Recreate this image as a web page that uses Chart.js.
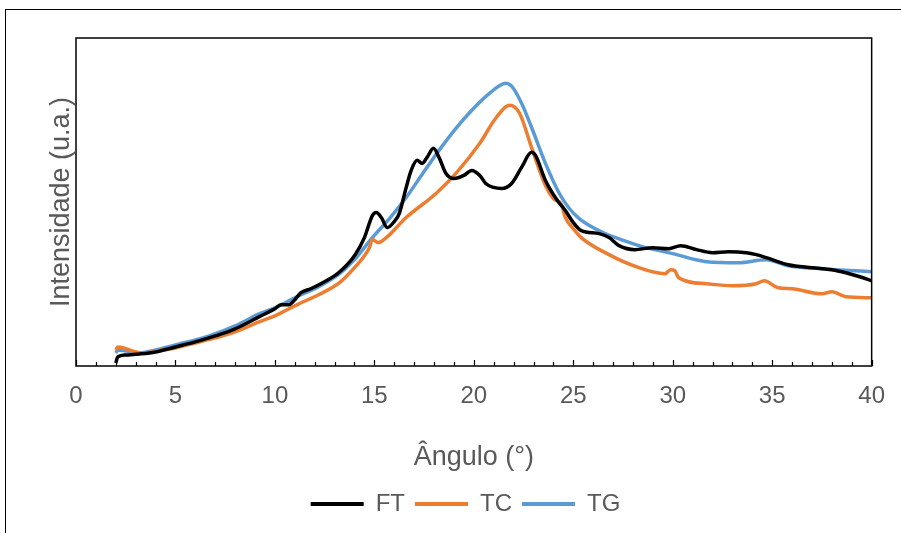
<!DOCTYPE html>
<html lang="pt">
<head>
    <meta charset="UTF-8">
    <title>Difratograma - FT, TC, TG</title>
    <script src="https://cdn.jsdelivr.net/npm/chart.js"></script>
    <style>
        body, html {
            margin: 0;
            padding: 0;
            background: #fff;
        }
        #chart {
            display: block;
        }
    </style>
</head>
<body>
    <canvas id="chart" width="901" height="533"></canvas>

    <script>
        // Ângulo (°) e intensidade (u.a.)
        const ftAngles = [2.0, 2.1, 2.5, 3.2, 4, 5, 6, 7, 8, 9.2, 10, 10.3, 10.7, 11.0, 11.3, 11.8, 12.4, 13.2, 14, 14.5, 14.9, 15.1, 15.35, 15.65, 16.0, 16.25, 16.6, 16.85, 17.15, 17.4, 17.65, 17.97, 18.25, 18.6, 19.0, 19.5, 19.9, 20.3, 20.6, 21.0, 21.4, 21.9, 22.4, 22.9, 23.1, 23.6, 24.2, 24.6, 25.0, 25.4, 26.3, 26.8, 27.3, 28.1, 29.0, 29.8, 30.4, 31.2, 32.0, 32.8, 33.7, 34.2, 34.7, 35.8, 37, 38.0, 38.7, 39.4, 40];
        const ftValues = [3, 9, 11, 12, 14, 19, 24, 30, 37, 49, 57, 61, 61, 66, 73, 77, 83, 93, 110, 128, 150, 153, 148, 138, 144, 152, 178, 195, 205, 202, 208, 217, 208, 192, 187, 190, 195, 190, 182, 178, 177, 182, 198, 213, 210, 185, 165, 155, 143, 135, 132, 128, 120, 116, 118, 117, 120, 116, 113, 114, 113, 111, 108, 101, 98, 96, 93, 89, 85];

        const tcAngles = [2.0, 2.1, 2.4, 3.0, 3.5, 4, 5, 6, 7, 8, 9.2, 10, 11.2, 12.2, 13.25, 14, 14.5, 14.75, 14.9, 15.2, 15.6, 16.6, 18.1, 19.1, 20.3, 21.1, 21.8, 22.3, 22.9, 23.6, 24.0, 24.4, 24.6, 25.0, 25.4, 26.6, 28.3, 29.6, 29.9, 30.1, 30.3, 31.7, 33.0, 34.2, 34.6, 35.3, 36.0, 37.5, 38.0, 38.7, 40];
        const tcValues = [16, 19, 18, 14, 13, 15, 18, 23, 28, 34, 44, 50, 62, 71, 83, 98, 110, 118, 126, 123, 128, 148, 172, 192, 222, 247, 260, 252, 218, 180, 167, 161, 148, 137, 128, 113, 98, 92, 96, 95, 88, 82, 80, 82, 85, 78, 77, 72, 74, 69, 68];

        const tgAngles = [2.0, 2.1, 2.5, 3.2, 4, 5, 6, 6.7, 8, 9.2, 10, 11.2, 12.2, 13.25, 14.0, 14.9, 15.8, 16.6, 17.4, 18.25, 19.1, 19.9, 20.8, 21.6, 21.9, 22.4, 22.9, 23.6, 24.3, 24.8, 25.3, 25.9, 26.6, 27.4, 28.3, 30.0, 31.7, 33.3, 34.7, 35.8, 37.5, 40];
        const tgValues = [13, 16, 15, 13, 16, 21, 26, 30, 40, 52, 58, 70, 79, 92, 106, 128, 148, 168, 191, 215, 237, 255, 272, 282, 279, 262, 238, 202, 172, 157, 147, 139, 132, 126, 120, 112, 104, 103, 106, 100, 97, 94];

        const xMin = 0;
        const xMax = 40;
        const xStep = 5;

        function toPoints(xs, ys) {
            return xs.map((x, i) => ({ x: x, y: ys[i] }));
        }

        // Moldura externa, caixa da área de plotagem e marcas internas do eixo X
        const framePlugin = {
            id: 'frame',
            beforeDraw(chart) {
                const ctx = chart.ctx;
                ctx.save();
                ctx.fillStyle = '#fff';
                ctx.fillRect(0, 0, chart.width, chart.height);
                ctx.strokeStyle = '#000';
                ctx.lineWidth = 1;
                ctx.strokeRect(5.5, 9.5, chart.width, chart.height);
                ctx.restore();
            },
            afterDatasetsDraw(chart) {
                const ctx = chart.ctx;
                const area = chart.chartArea;
                const xScale = chart.scales.x;
                ctx.save();
                ctx.strokeStyle = '#000';
                ctx.lineWidth = 1.5;
                ctx.strokeRect(area.left, area.top, area.right - area.left, area.bottom - area.top);
                ctx.lineWidth = 1.2;
                ctx.beginPath();
                for (let v = xMin; v <= xMax; v++) {
                    const px = Math.round(xScale.getPixelForValue(v)) + 0.5;
                    const len = v % xStep === 0 ? 6 : 4;
                    ctx.moveTo(px, area.bottom);
                    ctx.lineTo(px, area.bottom - len);
                }
                ctx.stroke();
                ctx.restore();
            }
        };

        const textColor = '#595959';
        const fontFamily = '"Liberation Sans", Arial, sans-serif';

        const ctx = document.getElementById('chart').getContext('2d');
        new Chart(ctx, {
            type: 'line',
            data: {
                datasets: [{
                    label: 'FT',
                    data: toPoints(ftAngles, ftValues),
                    borderColor: '#000000',
                    backgroundColor: '#000000'
                }, {
                    label: 'TC',
                    data: toPoints(tcAngles, tcValues),
                    borderColor: '#ED7D31',
                    backgroundColor: '#ED7D31'
                }, {
                    label: 'TG',
                    data: toPoints(tgAngles, tgValues),
                    borderColor: '#5B9BD5',
                    backgroundColor: '#5B9BD5'
                }]
            },
            options: {
                responsive: false,
                animation: false,
                layout: {
                    padding: { left: 58, right: 28, top: 38, bottom: 7 }
                },
                elements: {
                    point: { radius: 0 },
                    line: { borderWidth: 3.5, tension: 0.4, cubicInterpolationMode: 'monotone' }
                },
                scales: {
                    x: {
                        type: 'linear',
                        min: xMin,
                        max: xMax,
                        grid: { display: false, drawTicks: false },
                        border: { display: false },
                        ticks: {
                            stepSize: xStep,
                            padding: 16,
                            color: textColor,
                            font: { family: fontFamily, size: 24 }
                        },
                        title: {
                            display: true,
                            text: 'Ângulo (°)',
                            color: textColor,
                            font: { family: fontFamily, size: 27 },
                            padding: { top: 0, bottom: 8 }
                        },
                        afterFit(scale) {
                            scale.height = 116;
                        }
                    },
                    y: {
                        min: 0,
                        max: 327,
                        grid: { display: false },
                        border: { display: false },
                        ticks: { display: false },
                        title: {
                            display: true,
                            text: 'Intensidade (u.a.)',
                            color: textColor,
                            font: { family: fontFamily, size: 27 },
                            // o título fica à esquerda da caixa do eixo
                            padding: { top: -13, bottom: 0 }
                        },
                        afterFit(scale) {
                            scale.width = 18;
                        }
                    }
                },
                plugins: {
                    legend: {
                        position: 'bottom',
                        labels: {
                            boxWidth: 53,
                            boxHeight: 4,
                            padding: 10,
                            color: textColor,
                            font: { family: fontFamily, size: 24 },
                            generateLabels(chart) {
                                const items = Chart.defaults.plugins.legend.labels.generateLabels(chart);
                                items.forEach(item => { item.lineWidth = 0; });
                                return items;
                            }
                        }
                    },
                    tooltip: { enabled: false }
                }
            },
            plugins: [framePlugin]
        });
    </script>
</body>
</html>
